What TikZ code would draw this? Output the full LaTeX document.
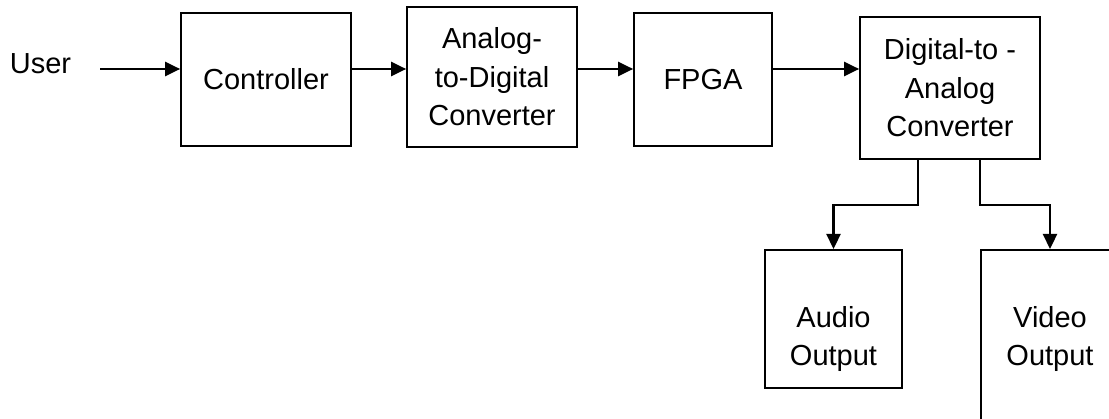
\documentclass[tikz,border=0pt]{standalone}
\usepackage{fontspec}
\setmainfont{Liberation Sans}
\usetikzlibrary{arrows.meta}

\tikzset{
    txt/.style={font=\fontsize{29}{38.5}\selectfont},
    block/.style={txt, draw=black, line width=1.7pt, inner sep=0pt, align=center},
    outtxt/.style={txt, align=center, anchor=north, inner sep=0pt, yshift=-57pt},
    arr/.style={line width=2.3pt, -{Triangle[length=15pt,width=14pt]}},
}

\begin{document}
\begin{tikzpicture}[x=1pt, y=-1pt]
    \useasboundingbox (0,0) rectangle (1109,419);

    % signal chain
    \node[txt] (user) at (40.5,64) {User};
    \coordinate (src) at (100,69);
    \node[block, minimum width=170pt, minimum height=133pt] (ctrl) at (266,79.5) {Controller};
    \node[block, minimum width=170pt, minimum height=140pt] (adc) at (492,77) {Analog-\\to-Digital\\Converter};
    \node[block, minimum width=138pt, minimum height=133pt] (fpga) at (703,79.5) {FPGA};
    \node[block, minimum width=180pt, minimum height=142pt] (dac) at (950,88) {Digital-to -\\Analog\\Converter};

    % outputs
    \node[block, anchor=north, minimum width=137pt, minimum height=138pt,
        label={[outtxt]north:Audio\\Output}] (audio) at (833.5,249) {};
    \node[block, anchor=north, minimum width=138pt, minimum height=220pt,
        label={[outtxt]north:Video\\Output}] (video) at (1050,249) {};

    \draw[arr] (src) -- (ctrl.west |- src);
    \draw[arr] (ctrl.east |- src) -- (adc.west |- src);
    \draw[arr] (adc.east |- src) -- (fpga.west |- src);
    \draw[arr] (fpga.east |- src) -- (dac.west |- src);

    \draw[arr] ([xshift=-32pt]dac.south) -- ++(0,45) -| (audio.north);
    \draw[arr] ([xshift=30pt]dac.south) -- ++(0,45) -| (video.north);

\end{tikzpicture}
\end{document}
